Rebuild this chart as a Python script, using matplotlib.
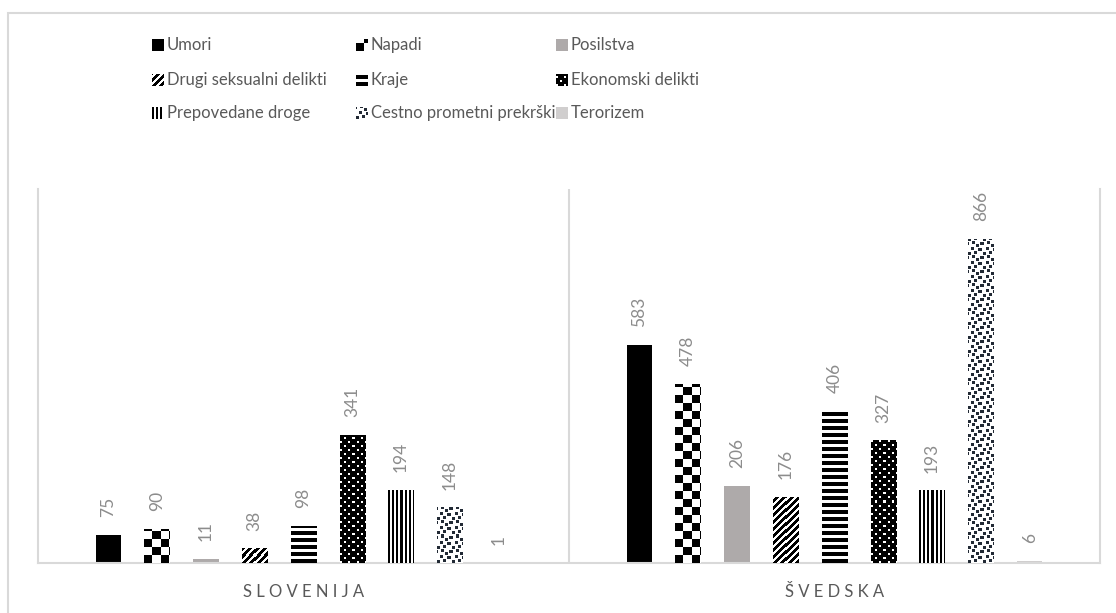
import numpy as np
import matplotlib
matplotlib.use("Agg")
import matplotlib.pyplot as plt
from matplotlib.colors import ListedColormap
from matplotlib.patches import Rectangle

plt.rcParams['font.family'] = ['Lato', 'DejaVu Sans']

# data
countries = ["SLOVENIJA", "ŠVEDSKA"]
series = ["Umori", "Napadi", "Posilstva",
          "Drugi seksualni delikti", "Kraje", "Ekonomski delikti",
          "Prepovedane droge", "Cestno prometni prekrški", "Terorizem"]
slovenija = [75, 90, 11, 38, 98, 341, 194, 148, 1]
svedska = [583, 478, 206, 176, 406, 327, 193, 866, 6]

W, H = 1116, 613
fig = plt.figure(figsize=(W / 100, H / 100), dpi=100)

# outer chart border (cut off at right / bottom like the source)
fig.patches.append(Rectangle((8 / W, -0.2), 1.2, (H - 13) / H + 0.2,
                             transform=fig.transFigure, fill=False,
                             edgecolor="#d9d9d9", lw=1.5))

ax = fig.add_axes([38 / W, (H - 563) / H, (1100 - 38) / W, (563 - 189) / H])
ax.set_xlim(0, 2)
ax.set_ylim(0, 1000)


def make_tile(kind):
    if kind == "checker":
        return np.kron(np.array([[1, 0], [0, 1]]), np.ones((8, 8), int))
    if kind == "confetti":
        t = np.zeros((14, 14), int)
        for x, y in [(0, 0), (6, 1), (10, 4), (3, 5), (8, 8), (12, 10), (4, 11)]:
            for dx in range(3):
                for dy in range(3):
                    t[(y + dy) % 14, (x + dx) % 14] = 1
        return t
    if kind == "dots":
        t = np.ones((8, 8), int)
        t[0:2, 0:2] = 0
        t[4:6, 4:6] = 0
        return t
    if kind == "diag":
        yy, xx = np.mgrid[0:7, 0:7]
        return ((xx - yy) % 7 < 4).astype(int)
    if kind == "horiz":
        t = np.zeros((7, 1), int)
        t[0:4] = 1
        return t
    if kind == "vert":
        t = np.zeros((1, 4), int)
        t[:, 0:2] = 1
        return t


# (face colour, pattern, pattern colour)
styles = [
    ("#000000", None, None),
    ("#ffffff", "checker", "#000000"),
    ("#aeaaaa", None, None),
    ("#ffffff", "diag", "#000000"),
    ("#ffffff", "horiz", "#000000"),
    ("#ffffff", "dots", "#000000"),
    ("#ffffff", "vert", "#000000"),
    ("#ffffff", "confetti", "#222a35"),
    ("#d0cece", None, None),
]


def fill_bar(a, bar, style):
    face, kind, fg = style
    if kind is None:
        bar.set_facecolor(face)
        return
    bar.set_facecolor("none")
    x0, y0 = bar.get_x(), bar.get_y()
    w, h = bar.get_width(), bar.get_height()
    (px0, py0), (px1, py1) = a.transData.transform([(x0, y0), (x0 + w, y0 + h)])
    nw = max(1, int(round(px1 - px0)))
    nh = max(1, int(round(py1 - py0)))
    tile = make_tile(kind)
    iy = np.arange(nh) % tile.shape[0]
    ix = np.arange(nw) % tile.shape[1]
    img = tile[iy][:, ix]
    a.imshow(img, origin="lower", extent=(x0, x0 + w, y0, y0 + h),
             cmap=ListedColormap([face, fg]), vmin=0, vmax=1,
             interpolation="nearest", aspect="auto", zorder=3)


step = 0.0919
width = 0.048
centers = np.array([0.5, 1.5])
for i, name in enumerate(series):
    vals = [slovenija[i], svedska[i]]
    xs = centers + (i - 4) * step
    bars = ax.bar(xs, vals, width=width, linewidth=0, zorder=2)
    for b, v in zip(bars, vals):
        fill_bar(ax, b, styles[i])
        ax.annotate(str(v), (b.get_x() + width / 2, v), xytext=(0, 13),
                    textcoords="offset points", rotation=90, ha="center",
                    va="bottom", color="#8c8c8c", fontsize=12.5)

ax.set_xlim(0, 2)
ax.set_ylim(0, 1000)
ax.axvline(1, color="#d9d9d9", lw=1.5, zorder=1)
for s in ["left", "right", "bottom"]:
    ax.spines[s].set_color("#d9d9d9")
    ax.spines[s].set_linewidth(1.5)
ax.spines["top"].set_visible(False)
ax.set_yticks([])
ax.set_xticks(centers)
ax.set_xticklabels([" ".join(c) for c in countries], color="#595959", fontsize=12)
ax.tick_params(axis="x", length=0, pad=15)

# legend, laid out row by row as in the source
col_x = [152, 356, 556]
row_y = [45, 80, 113]
for i, name in enumerate(series):
    r, c = divmod(i, 3)
    mx, my = col_x[c], row_y[r]
    la = fig.add_axes([mx / W, (H - my - 6) / H, 12 / W, 12 / H])
    la.set_xlim(0, 1)
    la.set_ylim(0, 1)
    la.axis("off")
    lb = la.bar([0.5], [1], width=1, linewidth=0)[0]
    fill_bar(la, lb, styles[i])
    la.set_xlim(0, 1)
    la.set_ylim(0, 1)
    fig.text((mx + 15) / W, (H - my) / H, name, va="center", ha="left",
             color="#595959", fontsize=12)

fig.savefig("out.png", dpi=100)
